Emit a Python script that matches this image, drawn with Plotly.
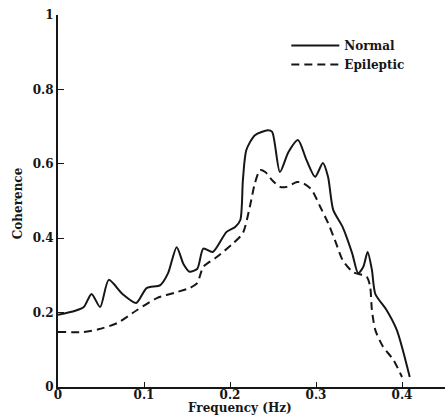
import plotly.graph_objects as go

normal_freq = [0, 0.02, 0.03, 0.039, 0.049, 0.059, 0.075, 0.091, 0.103, 0.119, 0.128, 0.138, 0.146,
               0.153, 0.162, 0.169, 0.18, 0.196, 0.206, 0.212, 0.215, 0.219, 0.229, 0.244, 0.249,
               0.258, 0.268, 0.279, 0.289, 0.299, 0.308, 0.314, 0.32, 0.331, 0.342, 0.349, 0.355,
               0.36, 0.365, 0.369, 0.382, 0.394, 0.401, 0.409]
normal_coh = [0.194, 0.205, 0.215, 0.25, 0.215, 0.288, 0.25, 0.226, 0.266, 0.274, 0.306, 0.376, 0.33,
              0.31, 0.318, 0.372, 0.363, 0.417, 0.43, 0.449, 0.556, 0.637, 0.677, 0.69, 0.686,
              0.578, 0.632, 0.664, 0.61, 0.565, 0.602, 0.565, 0.476, 0.43, 0.36, 0.306, 0.323,
              0.363, 0.315, 0.25, 0.207, 0.153, 0.099, 0.027]

epi_freq = [0, 0.03, 0.047, 0.069, 0.092, 0.115, 0.138, 0.153, 0.162, 0.169, 0.185, 0.204, 0.215,
            0.223, 0.229, 0.235, 0.241, 0.249, 0.258, 0.266, 0.278, 0.285, 0.295, 0.305, 0.314,
            0.322, 0.331, 0.343, 0.359, 0.363, 0.365, 0.369, 0.378, 0.39, 0.4]
epi_coh = [0.148, 0.148, 0.155, 0.172, 0.207, 0.239, 0.255, 0.266, 0.28, 0.323, 0.35, 0.387, 0.414,
           0.484, 0.548, 0.583, 0.578, 0.556, 0.538, 0.538, 0.551, 0.548, 0.53, 0.484, 0.441,
           0.395, 0.341, 0.309, 0.296, 0.269, 0.207, 0.153, 0.108, 0.073, 0.027]

x_ticks = [0, 0.1, 0.2, 0.3, 0.4]
x_labels = ["0", "0.1", "0.2", "0.3", "0.4"]
y_ticks = [0, 0.2, 0.4, 0.6, 0.8, 1]
y_labels = ["0", "0.2", "0.4", "0.6", "0.8", "1"]

FONT = "DejaVu Serif"
INK = "#161616"

fig = go.Figure()
fig.add_trace(go.Scatter(x=normal_freq, y=normal_coh, mode="lines", name="Normal",
                         line=dict(color=INK, width=2, shape="spline", smoothing=0.7)))
fig.add_trace(go.Scatter(x=epi_freq, y=epi_coh, mode="lines", name="Epileptic",
                         line=dict(color=INK, width=2, dash="8px,5px", shape="spline", smoothing=0.7)))

fig.update_layout(
    width=446, height=418,
    margin=dict(l=58, r=1, t=15, b=31),
    paper_bgcolor="white", plot_bgcolor="white",
    font=dict(family=FONT, size=12, color=INK, weight="bold"),
    showlegend=True,
    legend=dict(x=0.59, y=0.957, xanchor="left", yanchor="top", bgcolor="rgba(0,0,0,0)",
                font=dict(family=FONT, size=12, color=INK, weight="bold"),
                itemwidth=48, tracegroupgap=4),
    xaxis=dict(range=[0, 0.45], tickvals=x_ticks, ticktext=x_labels, ticks="inside", ticklen=5,
               tickcolor=INK, showgrid=False, zeroline=False, showline=True, linecolor=INK,
               linewidth=2, ticklabelstandoff=-4,
               tickfont=dict(family=FONT, size=12, color=INK, weight="bold")),
    yaxis=dict(range=[0, 1], tickvals=y_ticks, ticktext=y_labels, ticks="inside", ticklen=6,
               tickcolor=INK, showgrid=False, zeroline=False, showline=True, linecolor=INK,
               linewidth=2,
               tickfont=dict(family=FONT, size=12, color=INK, weight="bold")),
    annotations=[
        dict(text="Coherence", x=-0.105, y=0.495, xref="paper", yref="paper", textangle=-90,
             xanchor="center", yanchor="middle", showarrow=False,
             font=dict(family=FONT, size=12, color=INK, weight="bold")),
        dict(text="Frequency (Hz)", x=0.47, y=-0.056, xref="paper", yref="paper",
             showarrow=False, xanchor="center", yanchor="middle",
             font=dict(family=FONT, size=12, color=INK, weight="bold")),
    ],
)

fig.write_html("out.html", config={"displayModeBar": False},
               post_script="document.body.style.margin='0';")
